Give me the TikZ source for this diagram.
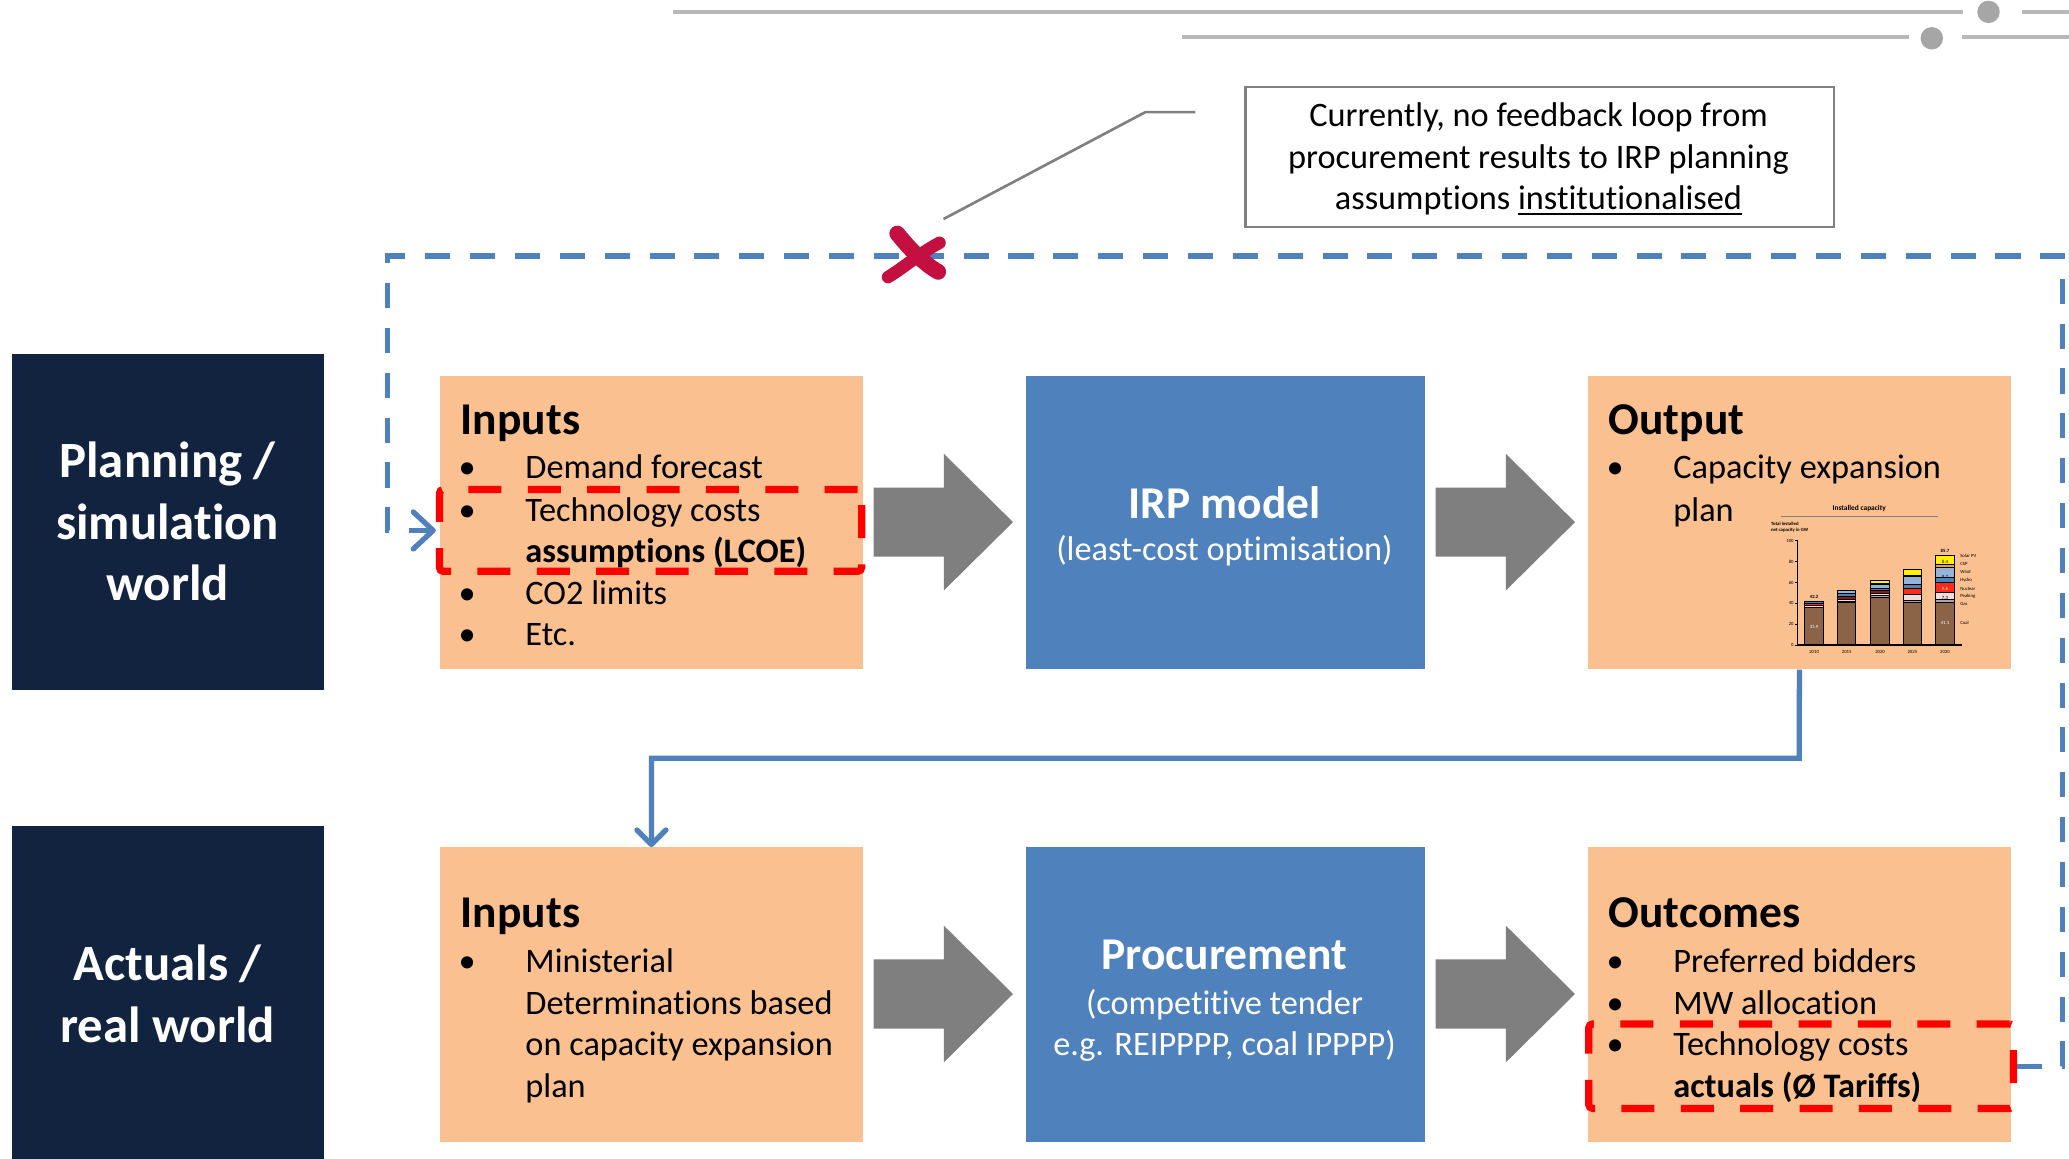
\documentclass[tikz,border=0pt]{standalone}
\usepackage{fontspec}
\setmainfont{Carlito}[Ligatures=NoCommon]
\usetikzlibrary{arrows.meta}
\definecolor{darknavy}{HTML}{12233F}
\definecolor{boxorange}{HTML}{FAC090}
\definecolor{boxblue}{HTML}{4F81BD}
\definecolor{arrowgray}{HTML}{7F7F7F}
\definecolor{xred}{HTML}{C31040}
\definecolor{decogray}{HTML}{B8B8B8}
\definecolor{dotgray}{HTML}{A6A6A6}
\definecolor{calloutgray}{HTML}{808080}
\definecolor{coalc}{HTML}{8B6448}
\definecolor{gasc}{HTML}{A6A6A6}
\definecolor{peakc}{HTML}{F2DCDB}
\definecolor{nucc}{HTML}{FF2A1A}
\definecolor{dnucc}{HTML}{8B1A1A}
\definecolor{hydroc}{HTML}{4F81BD}
\definecolor{windc}{HTML}{95B3D7}
\definecolor{cspc}{HTML}{F0A030}
\definecolor{solarc}{HTML}{FFF200}
\newcommand\myul[1]{\leavevmode\vtop{\hbox{#1}\kern2pt\hrule height 1.8pt}}
\newcommand\blockarrow[3]{%
  \fill[arrowgray] (#1,#3-26.2) -- (#2-52.3,#3-26.2) -- (#2-52.3,#3-51.7) -- (#2,#3)
    -- (#2-52.3,#3+51.7) -- (#2-52.3,#3+26.2) -- (#1,#3+26.2) -- cycle;}
\newcommand\mybar[2]{%
  \gdef\mycum{0}%
  \foreach \v/\c in {#2}{%
    \pgfmathsetmacro\ya{488.8-0.79*\mycum}%
    \pgfmathsetmacro\yb{488.8-0.79*(\mycum+\v)}%
    \filldraw[fill=\c, draw=black, line width=0.7pt] (#1-6.95,\ya) rectangle (#1+6.95,\yb);%
    \pgfmathsetmacro\newcum{\mycum+\v}%
    \xdef\mycum{\newcum}%
  }%
}
\tikzset{
  obox/.style={fill=boxorange, draw=none, inner sep=0pt, anchor=north west},
  bbox/.style={fill=boxblue, draw=none, inner sep=0pt, anchor=north west},
  nbox/.style={fill=darknavy, draw=none, inner sep=0pt, anchor=north west},
  body/.style={font=\fontsize{26}{31.5}\selectfont, anchor=base west, inner sep=0pt},
  bodyc/.style={font=\fontsize{26}{31.5}\selectfont, anchor=base, inner sep=0pt},
  bul/.style={font=\fontsize{26}{31.5}\selectfont, anchor=base, inner sep=0pt},
  head/.style={font=\fontsize{34.5}{41}\selectfont\bfseries, anchor=base west, inner sep=0pt},
  headc/.style={font=\fontsize{34.5}{41}\selectfont\bfseries, anchor=base, inner sep=0pt, text=white},
  side/.style={font=\fontsize{38.5}{46}\selectfont\bfseries, anchor=base, inner sep=0pt, text=white},
  reddash/.style={draw=red, line width=5.5pt, dash pattern=on 25pt off 20pt, rounded corners=3pt, inner sep=0pt},
  loopline/.style={draw=boxblue, line width=4pt, dash pattern=on 19pt off 15pt},
  conn/.style={draw=boxblue, line width=4pt},
  barb/.style={-{Straight Barb[length=11pt, width=22pt, round]}},
  bigbarb/.style={-{Straight Barb[length=15pt, width=28pt, round]}},
  deco/.style={draw=decogray, line width=2.5pt},
  tiny/.style={font=\fontsize{3.6}{4}\selectfont, inner sep=0pt},
  tinyb/.style={font=\fontsize{3.6}{4}\selectfont\bfseries, inner sep=0pt},
}
\begin{document}
\begin{tikzpicture}[x=1pt,y=-1pt]
\useasboundingbox (0,0) rectangle (1568,878);
\fill[white] (0,0) rectangle (1568,878);

% top decoration
\draw[deco] (510,9) -- (1488,9);
\fill[dotgray] (1507,9) circle (8.5pt);
\draw[deco] (1532,9) -- (1568,9);
\draw[deco] (896,28) -- (1447,28);
\fill[dotgray] (1464,29) circle (8.5pt);
\draw[deco] (1487,28) -- (1568,28);

% side labels
\node[nbox, minimum width=236pt, minimum height=255pt] (plan) at (9,268) {};
\node[side] (planA) at (127,362) {Planning /};
\node[side] (planB) at (127,408.5) {simulation};
\node[side] (planC) at (127,455) {world};
\node[nbox, minimum width=236pt, minimum height=252pt] (act) at (9,626) {};
\node[side] (actA) at (127,743) {Actuals /};
\node[side] (actB) at (127,790) {real world};

% boxes row 1
\node[obox, minimum width=321pt, minimum height=222.5pt] (in1) at (333,284.5) {};
\node[bbox, minimum width=303pt, minimum height=222.5pt] (irp) at (777,284.5) {};
\node[obox, minimum width=321pt, minimum height=222.5pt] (out1) at (1203,284.5) {};
% boxes row 2
\node[obox, minimum width=321pt, minimum height=223pt] (in2) at (333,642) {};
\node[bbox, minimum width=303pt, minimum height=223pt] (proc) at (777,642) {};
\node[obox, minimum width=321pt, minimum height=223pt] (outc) at (1203,642) {};

% block arrows
\blockarrow{662}{767.7}{395.7}
\blockarrow{1088}{1193.6}{395.7}
\blockarrow{662}{767.7}{753.3}
\blockarrow{1088}{1193.6}{753.3}

% texts row 1 inputs
\node[head] (in1h) at (349,329) {Inputs};
\node[bul] (in1b1) at (354,363) {•};
\node[body] (in1t1) at (398,363) {Demand forecast};
\node[bul] (in1b2) at (354,395) {•};
\node[body] (in1t2) at (398,395) {Technology costs};
\node[body] (in1t3) at (398,426) {\bfseries assumptions (LCOE)};
\node[bul] (in1b4) at (354,458) {•};
\node[body] (in1t4) at (398,458) {CO2 limits};
\node[bul] (in1b5) at (354,489) {•};
\node[body] (in1t5) at (398,489) {Etc.};

% IRP model
\node[headc] (irpA) at (928,393) {IRP model};
\node[bodyc, text=white] (irpB) at (928,425) {(least-cost optimisation)};

% Output
\node[head] (out1h) at (1219,329) {Output};
\node[bul] (out1b1) at (1224,363) {•};
\node[body] (out1t1) at (1268,363) {Capacity expansion};
\node[body] (out1t2) at (1268,395) {plan};

% chart
\node[font=\fontsize{5.6}{6}\selectfont\bfseries, inner sep=0pt] (chtitle) at (1409,385) {Installed capacity};
\draw[calloutgray, line width=0.8pt] (1350,391.6) -- (1469,391.6);
\node[tinyb, anchor=base west] (chyl1) at (1342,398) {Total installed};
\node[tinyb, anchor=base west] (chyl2) at (1342,403) {net capacity in GW};
\mybar{1374.8}{35.9/coalc, 2.4/peakc, 1.8/nucc, 2.1/hydroc}
\mybar{1399.5}{41/coalc, 1/gasc, 2/peakc, 3/dnucc, 2.5/hydroc, 2.5/windc}
\mybar{1424.8}{46/coalc, 1.5/gasc, 2/peakc, 2.5/dnucc, 2.5/hydroc, 4/windc, 1/cspc, 2.5/solarc}
\mybar{1449.3}{41/coalc, 1.5/gasc, 5.5/peakc, 6.5/nucc, 4/hydroc, 7/windc, 1.5/cspc, 5/solarc}
\mybar{1474}{41.1/coalc, 2.4/gasc, 7.3/peakc, 9.6/nucc, 4.6/hydroc, 9.2/windc, 3.2/cspc, 8.4/solarc}
\draw[black, line width=0.8pt] (1362,409) -- (1362,488.8) -- (1486.7,488.8);
\foreach \t in {0,20,40,60,80,100}{
  \draw[black, line width=0.5pt] (1360.5,488.8-0.79*\t) -- (1362,488.8-0.79*\t);
  \node[tiny, anchor=east] (ytick\t) at (1359.5,488.8-0.79*\t) {\t};
}
\node[tiny] (yr2010) at (1374.8,494) {2010};
\node[tiny] (yr2015) at (1399.5,494) {2015};
\node[tiny] (yr2020) at (1424.8,494) {2020};
\node[tiny] (yr2025) at (1449.3,494) {2025};
\node[tiny] (yr2030) at (1474,494) {2030};
\node[tinyb] (tot2010) at (1374.8,452.5) {42.2};
\node[tinyb] (tot2030) at (1474,417.5) {85.7};
\node[tiny, text=white] (v2010) at (1374.8,475) {35.9};
\node[tiny, text=white] (v2030) at (1474,472.5) {41.1};
\node[tiny] (v2030s) at (1474,425.5) {8.4};
\node[tiny] (v2030w) at (1474,437) {9.2};
\node[tiny, text=white] (v2030n) at (1474,446) {9.6};
\node[tiny] (v2030p) at (1474,453) {7.3};
\node[tiny, anchor=west] (lgS) at (1485.4,421.4) {Solar PV};
\node[tiny, anchor=west] (lgC) at (1485.4,427.7) {CSP};
\node[tiny, anchor=west] (lgW) at (1485.4,433.7) {Wind};
\node[tiny, anchor=west] (lgH) at (1485.4,439.6) {Hydro};
\node[tiny, anchor=west] (lgN) at (1485.4,445.9) {Nuclear};
\node[tiny, anchor=west] (lgP) at (1485.4,451.9) {Peaking};
\node[tiny, anchor=west] (lgG) at (1485.4,458) {Gas};
\node[tiny, anchor=west] (lgCo) at (1485.4,472.4) {Coal};

% row 2 inputs
\node[head] (in2h) at (349,703) {Inputs};
\node[bul] (in2b1) at (354,737) {•};
\node[body] (in2t1) at (398,737) {Ministerial};
\node[body] (in2t2) at (398,769) {Determinations based};
\node[body] (in2t3) at (398,800) {on capacity expansion};
\node[body] (in2t4) at (398,832) {plan};

% procurement
\node[headc] (procA) at (928,735) {Procurement};
\node[bodyc, text=white] (procB) at (928,769) {(competitive tender};
\node[bodyc, text=white] (procC) at (928,800) {e.g. REIPPPP, coal IPPPP)};

% outcomes
\node[head] (outch) at (1219,703) {Outcomes};
\node[bul] (outcb1) at (1224,737) {•};
\node[body] (outct1) at (1268,737) {Preferred bidders};
\node[bul] (outcb2) at (1224,769) {•};
\node[body] (outct2) at (1268,769) {MW allocation};
\node[bul] (outcb3) at (1224,800) {•};
\node[body] (outct3) at (1268,800) {Technology costs};
\node[body] (outct4) at (1268,832) {\bfseries actuals (Ø Tariffs)};

% red dashed highlights
\node[reddash, minimum width=320pt, minimum height=62pt] (red1) at (493,402) {};
\node[reddash, minimum width=322pt, minimum height=64pt] (red2) at (1365,808) {};

% blue solid connector
\coordinate (bendA) at (1363.5,574.7);
\draw[conn, barb] (out1.south) -- (bendA) -| (in2.north);

% blue dashed feedback loop
\coordinate (loopA) at (1563,808);
\coordinate (loopB) at (1563,194);
\coordinate (loopC) at (293.7,194);
\coordinate (loopD) at (293.7,402);
\draw[loopline, bigbarb] (red2.east) -- (loopA) -- (loopB) -- (loopC) -- (loopD) -- (red1.west);

% red cross
\draw[xred, line width=12pt, line cap=round] (680,177) .. controls (689,188) and (699,199) .. (711,206);
\draw[xred, line width=9.5pt, line cap=round] (712,184) .. controls (697,192) and (686,202) .. (673,210);

% callout
\coordinate (callA) at (715,166);
\coordinate (callB) at (868,85);
\coordinate (callC) at (906,85);
\draw[calloutgray, line width=2pt] (callA) -- (callB) -- (callC);
\node[draw=calloutgray, line width=2pt, fill=white, inner sep=0pt, minimum width=446pt, minimum height=106pt, anchor=north west] (callout) at (943,65) {};
\node[bodyc] (callT1) at (1166,96) {Currently, no feedback loop from};
\node[bodyc] (callT2) at (1166,128) {procurement results to IRP planning};
\node[bodyc] (callT3) at (1166,159) {assumptions \myul{institutionalised}};
\end{tikzpicture}
\end{document}
